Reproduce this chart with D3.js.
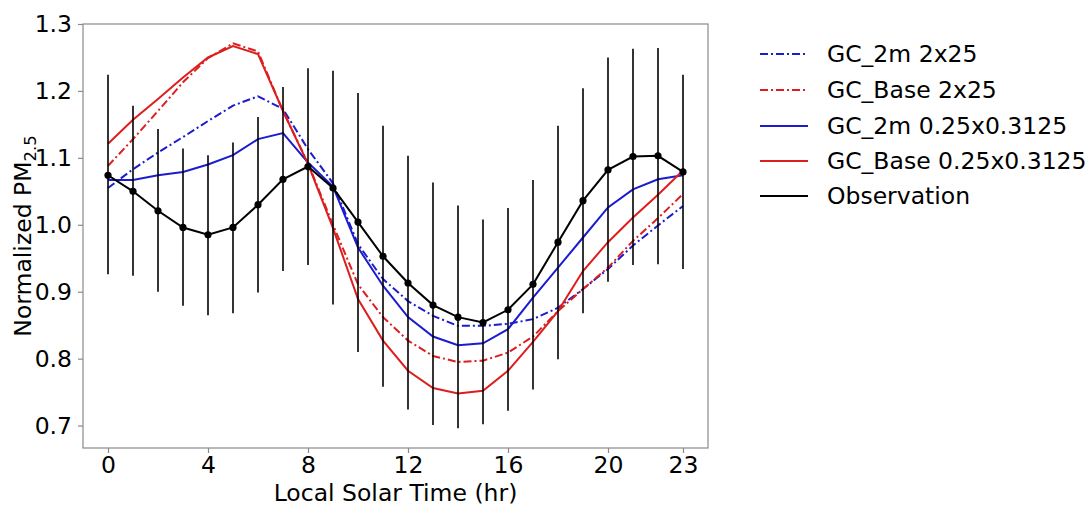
<!DOCTYPE html>
<html>
<head>
<meta charset="utf-8">
<script src="https://cdn.jsdelivr.net/npm/d3@7"></script>
<style>
  html, body { margin: 0; padding: 0; background: #fff; }
  svg { display: block; font-family: "DejaVu Sans", sans-serif; }
</style>
</head>
<body>
<svg id="chart" width="1092" height="506"></svg>
<script>
// ---- data ----
const hours = d3.range(0, 24);
const xTicks = [0, 4, 8, 12, 16, 20, 23];
const yTicks = [0.7, 0.8, 0.9, 1.0, 1.1, 1.2, 1.3];

const gc2m2x25 = [1.055, 1.083, 1.108, 1.131, 1.155, 1.178, 1.192, 1.173, 1.113, 1.062,
  0.971, 0.919, 0.886, 0.864, 0.849, 0.849, 0.852, 0.859, 0.876, 0.904, 0.934, 0.969, 0.999, 1.028];
const gcBase2x25 = [1.088, 1.128, 1.170, 1.213, 1.249, 1.271, 1.259, 1.170, 1.092, 1.000,
  0.911, 0.862, 0.827, 0.804, 0.795, 0.797, 0.809, 0.833, 0.871, 0.904, 0.936, 0.976, 1.010, 1.046];
const gc2mFine = [1.067, 1.067, 1.074, 1.079, 1.090, 1.104, 1.128, 1.137, 1.093, 1.057,
  0.966, 0.909, 0.862, 0.833, 0.820, 0.823, 0.844, 0.891, 0.936, 0.981, 1.026, 1.053, 1.068, 1.074];
const gcBaseFine = [1.121, 1.157, 1.188, 1.220, 1.250, 1.267, 1.255, 1.170, 1.091, 0.995,
  0.889, 0.827, 0.782, 0.756, 0.748, 0.752, 0.782, 0.825, 0.871, 0.931, 0.974, 1.011, 1.045, 1.081];
const obsMean = [1.074, 1.050, 1.021, 0.996, 0.985, 0.996, 1.030, 1.068, 1.087, 1.055,
  1.004, 0.953, 0.913, 0.880, 0.862, 0.854, 0.873, 0.911, 0.974, 1.036, 1.082, 1.102, 1.103, 1.079];
const obsHigh = [1.224, 1.178, 1.143, 1.114, 1.104, 1.123, 1.161, 1.206, 1.234, 1.230,
  1.197, 1.148, 1.103, 1.063, 1.029, 1.008, 1.025, 1.067, 1.148, 1.204, 1.250, 1.263, 1.264, 1.224];
const obsLow = [0.926, 0.924, 0.900, 0.879, 0.865, 0.868, 0.899, 0.931, 0.940, 0.881,
  0.810, 0.758, 0.724, 0.701, 0.696, 0.702, 0.722, 0.754, 0.799, 0.868, 0.915, 0.940, 0.941, 0.934];

const BLUE = '#1c1ccf';
const RED = '#dd1e1e';
const DASHDOT = '8,3,2,3';

const series = [
  { name: 'GC_2m 2x25', values: gc2m2x25, color: BLUE, dash: DASHDOT },
  { name: 'GC_Base 2x25', values: gcBase2x25, color: RED, dash: DASHDOT },
  { name: 'GC_2m 0.25x0.3125', values: gc2mFine, color: BLUE, dash: null },
  { name: 'GC_Base 0.25x0.3125', values: gcBaseFine, color: RED, dash: null }
];

// ---- layout ----
const svg = d3.select('#chart');
const plot = { left: 83, right: 708, top: 24, bottom: 448 };
const FS = 23.5;

const x = d3.scaleLinear().domain([-1, 24]).range([plot.left, plot.right]);
const y = d3.scaleLinear().domain([0.6665, 1.3]).range([plot.bottom, plot.top]);

// frame
svg.append('rect')
  .attr('x', plot.left).attr('y', plot.top)
  .attr('width', plot.right - plot.left).attr('height', plot.bottom - plot.top)
  .attr('fill', 'none').attr('stroke', '#8a8a8a').attr('stroke-width', 1.2);

// axes
const xAxis = svg.append('g')
  .attr('transform', `translate(0,${plot.bottom})`)
  .call(d3.axisBottom(x).tickValues(xTicks).tickSize(5).tickPadding(3).tickFormat(d3.format('d')));
const yAxis = svg.append('g')
  .attr('transform', `translate(${plot.left},0)`)
  .call(d3.axisLeft(y).tickValues(yTicks).tickSize(5).tickPadding(6).tickFormat(d3.format('.1f')));
[xAxis, yAxis].forEach(a => {
  a.select('.domain').remove();
  a.selectAll('.tick line').attr('stroke', '#8a8a8a').attr('stroke-width', 1.2);
  a.selectAll('.tick text').attr('fill', '#000').attr('font-size', FS).attr('font-family', 'DejaVu Sans');
});

// axis titles
svg.append('text')
  .attr('x', (plot.left + plot.right) / 2).attr('y', 501)
  .attr('text-anchor', 'middle').attr('font-size', FS)
  .text('Local Solar Time (hr)');

const yl = svg.append('text')
  .attr('transform', `translate(31,${(plot.top + plot.bottom) / 2}) rotate(-90)`)
  .attr('text-anchor', 'middle').attr('font-size', FS);
yl.append('tspan').text('Normalized PM');
yl.append('tspan').attr('font-size', FS * 0.7).attr('dy', 5).text('2.5');

// model lines
const line = d3.line().x((d, i) => x(hours[i])).y(d => y(d));
const g = svg.append('g');
series.forEach(s => {
  g.append('path')
    .datum(s.values)
    .attr('d', line)
    .attr('fill', 'none')
    .attr('stroke', s.color)
    .attr('stroke-width', 2)
    .attr('stroke-dasharray', s.dash);
});

// observation error bars + line + markers
g.selectAll('line.err').data(hours).join('line')
  .attr('class', 'err')
  .attr('x1', d => x(d)).attr('x2', d => x(d))
  .attr('y1', d => y(obsLow[d])).attr('y2', d => y(obsHigh[d]))
  .attr('stroke', '#000').attr('stroke-width', 1.6);
g.append('path')
  .datum(obsMean)
  .attr('d', line)
  .attr('fill', 'none').attr('stroke', '#000').attr('stroke-width', 2);
g.selectAll('circle.obs').data(hours).join('circle')
  .attr('class', 'obs')
  .attr('cx', d => x(d)).attr('cy', d => y(obsMean[d]))
  .attr('r', 3.6).attr('fill', '#000');

// legend
const legendItems = series.concat([{ name: 'Observation', color: '#000', dash: null }]);
const legendY = [54, 90, 126, 161, 196];
const lg = svg.append('g');
legendItems.forEach((s, i) => {
  lg.append('line')
    .attr('x1', 760).attr('x2', 808)
    .attr('y1', legendY[i]).attr('y2', legendY[i])
    .attr('stroke', s.color).attr('stroke-width', 2)
    .attr('stroke-dasharray', s.dash);
  lg.append('text')
    .attr('x', 827).attr('y', legendY[i] + 8)
    .attr('font-size', FS)
    .text(s.name);
});
</script>
</body>
</html>
